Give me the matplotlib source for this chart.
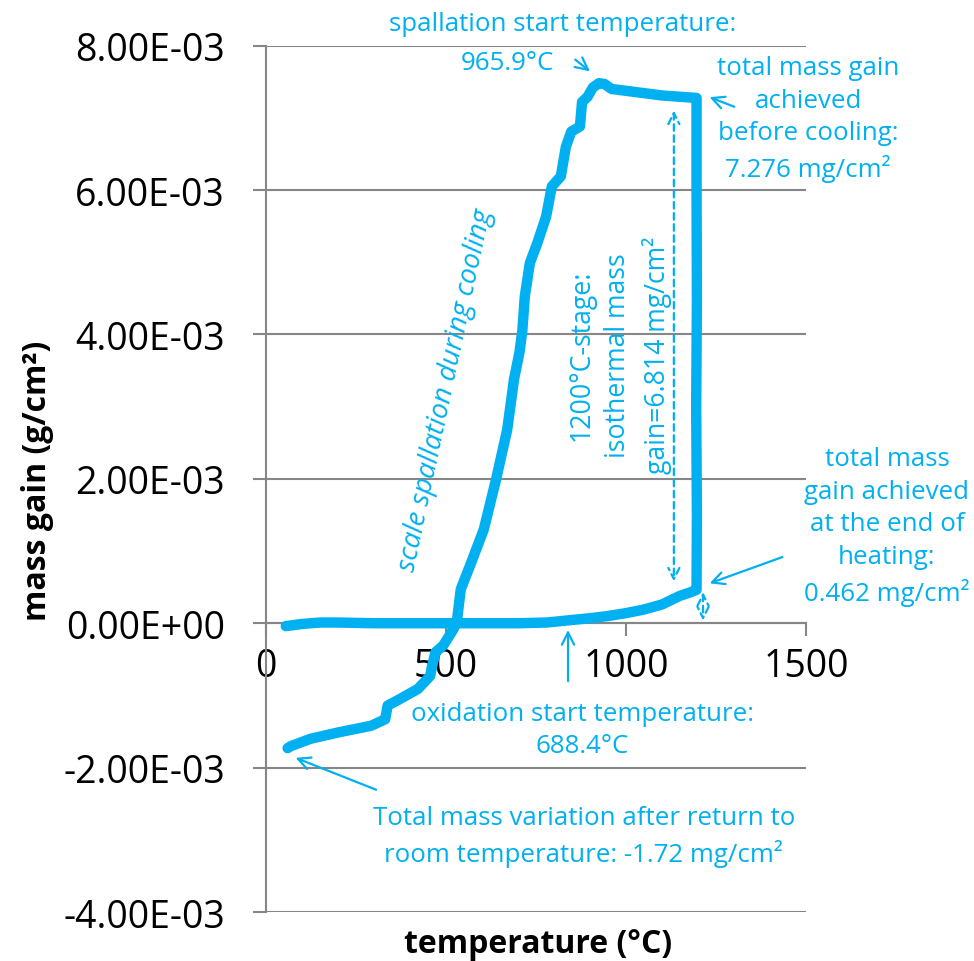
import matplotlib
matplotlib.use("Agg")
import matplotlib.pyplot as plt
from matplotlib.ticker import FuncFormatter
import numpy as np

# thermogravimetric run: heating, 1200 C hold, cooling  (mass gain in mg/cm2)
heat_T = [55, 100, 150, 200, 300, 400, 500, 600, 700, 780, 840, 900, 950,
          1000, 1050, 1100, 1150, 1180, 1196]
heat_m = [-0.04, -0.01, 0.01, 0.01, 0.0, 0.0, 0.0, 0.0, 0.0, 0.01, 0.04,
          0.07, 0.10, 0.14, 0.19, 0.26, 0.38, 0.43, 0.462]

hold_T = [1196, 1197, 1195, 1197, 1196, 1196]
hold_m = [0.462, 1.5, 3.0, 4.5, 6.0, 7.276]

cool_T = [1196, 1100, 1007, 960, 940, 925, 908, 893, 878, 872, 848, 833, 819,
          794, 778, 754, 733, 719, 712, 704, 689, 670, 639, 605, 570, 541,
          531, 521, 492, 471, 461, 456, 422, 372, 338, 331, 292, 203, 124,
          70, 60]
cool_m = [7.276, 7.31, 7.37, 7.40, 7.47, 7.48, 7.42, 7.29, 7.22, 6.88, 6.81,
          6.60, 6.19, 6.05, 5.63, 5.27, 4.99, 4.53, 4.05, 3.75, 3.38, 2.68,
          1.99, 1.30, 0.84, 0.47, 0.06, -0.08, -0.31, -0.40, -0.60, -0.73,
          -0.91, -1.05, -1.14, -1.33, -1.42, -1.51, -1.60, -1.70, -1.73]

y_ticks = [-4e-3, -2e-3, 0, 2e-3, 4e-3, 6e-3, 8e-3]
x_ticks = [0, 500, 1000, 1500]

blue = "#00B0F0"
grey = "#868686"

plt.rcParams["font.family"] = ["Open Sans", "DejaVu Sans"]

fig = plt.figure(figsize=(9.74, 9.62), dpi=100)
ax = fig.add_axes([0.2731, 0.0509, 0.5544, 0.9006])

T = heat_T + hold_T[1:] + cool_T[1:]
m = np.array(heat_m + hold_m[1:] + cool_m[1:]) * 1e-3
ax.plot(T, m, color=blue, lw=7.5, solid_capstyle="round", solid_joinstyle="round", zorder=5)

ax.set_xlim(0, 1500)
ax.set_ylim(-4e-3, 8e-3)
ax.set_yticks(y_ticks)
ax.set_xticks(x_ticks)
ax.yaxis.set_major_formatter(FuncFormatter(lambda v, p: f"{v:.2E}"))
ax.grid(axis="y", color=grey, lw=1.5)
ax.set_axisbelow(True)

for s in ["top", "right"]:
    ax.spines[s].set_visible(False)
ax.spines["bottom"].set_position(("data", 0))
ax.spines["bottom"].set_color(grey)
ax.spines["bottom"].set_linewidth(1.5)
ax.spines["left"].set_color(grey)
ax.spines["left"].set_linewidth(1.5)

ax.tick_params(axis="y", direction="out", length=9.5, width=1.5, color=grey,
               labelsize=27, pad=20)
ax.tick_params(axis="x", direction="out", length=9, width=1.5, color=grey,
               labelsize=27, pad=8)

fig.text(0.039, 0.5, "mass gain (g/cm²)", rotation=90, ha="center", va="center",
         fontsize=23, fontweight="bold")
fig.text(0.552, 0.018, "temperature (°C)", ha="center", va="center",
         fontsize=23, fontweight="bold")

kw = dict(color=blue, fontsize=18.6, ha="center", va="center", linespacing=1.4)
arw = dict(arrowstyle="->", color=blue, lw=1.6, mutation_scale=22)

ax.text(825, 8.30e-3, "spallation start temperature:", clip_on=False, **kw)
ax.text(672, 7.77e-3, "965.9°C", **kw)
ax.annotate("", xy=(906, 7.62e-3), xytext=(853, 7.83e-3), arrowprops=arw)

ax.text(1506, 6.99e-3, "total mass gain\nachieved\nbefore cooling:\n7.276 mg/cm²",
        clip_on=False, **kw)
ax.annotate("", xy=(1225, 7.30e-3), xytext=(1308, 7.14e-3), arrowprops=arw)

ax.text(1725, 1.35e-3, "total mass\ngain achieved\nat the end of\nheating:\n0.462 mg/cm²",
        clip_on=False, **kw)
ax.annotate("", xy=(1225, 0.54e-3), xytext=(1442, 0.93e-3), arrowprops=arw)

dash = dict(arrowstyle="<->", color=blue, lw=1.6, ls=(0, (3, 2)), mutation_scale=20)
ax.annotate("", xy=(1133, 0.54e-3), xytext=(1133, 7.14e-3), arrowprops=dash)
ax.annotate("", xy=(1214, 0.0), xytext=(1214, 0.47e-3), arrowprops=dash)

rot = dict(kw, fontsize=19.2)
ax.text(983, 3.72e-3, "1200°C-stage:\nisothermal mass\ngain=6.814 mg/cm²",
        rotation=90, rotation_mode="anchor", **rot)
ax.text(500, 3.24e-3, "scale spallation during cooling", rotation=78,
        rotation_mode="anchor", style="italic", **dict(kw, fontsize=19.8))

ax.text(878, -1.47e-3, "oxidation start temperature:\n688.4°C", **kw)
ax.annotate("", xy=(839, -0.055e-3), xytext=(839, -0.84e-3), arrowprops=arw)

ax.text(883, -2.95e-3, "Total mass variation after return to\nroom temperature: -1.72 mg/cm²",
        **kw)
ax.annotate("", xy=(75, -1.85e-3), xytext=(313, -2.32e-3), arrowprops=arw)

fig.savefig("out.png", dpi=100)
